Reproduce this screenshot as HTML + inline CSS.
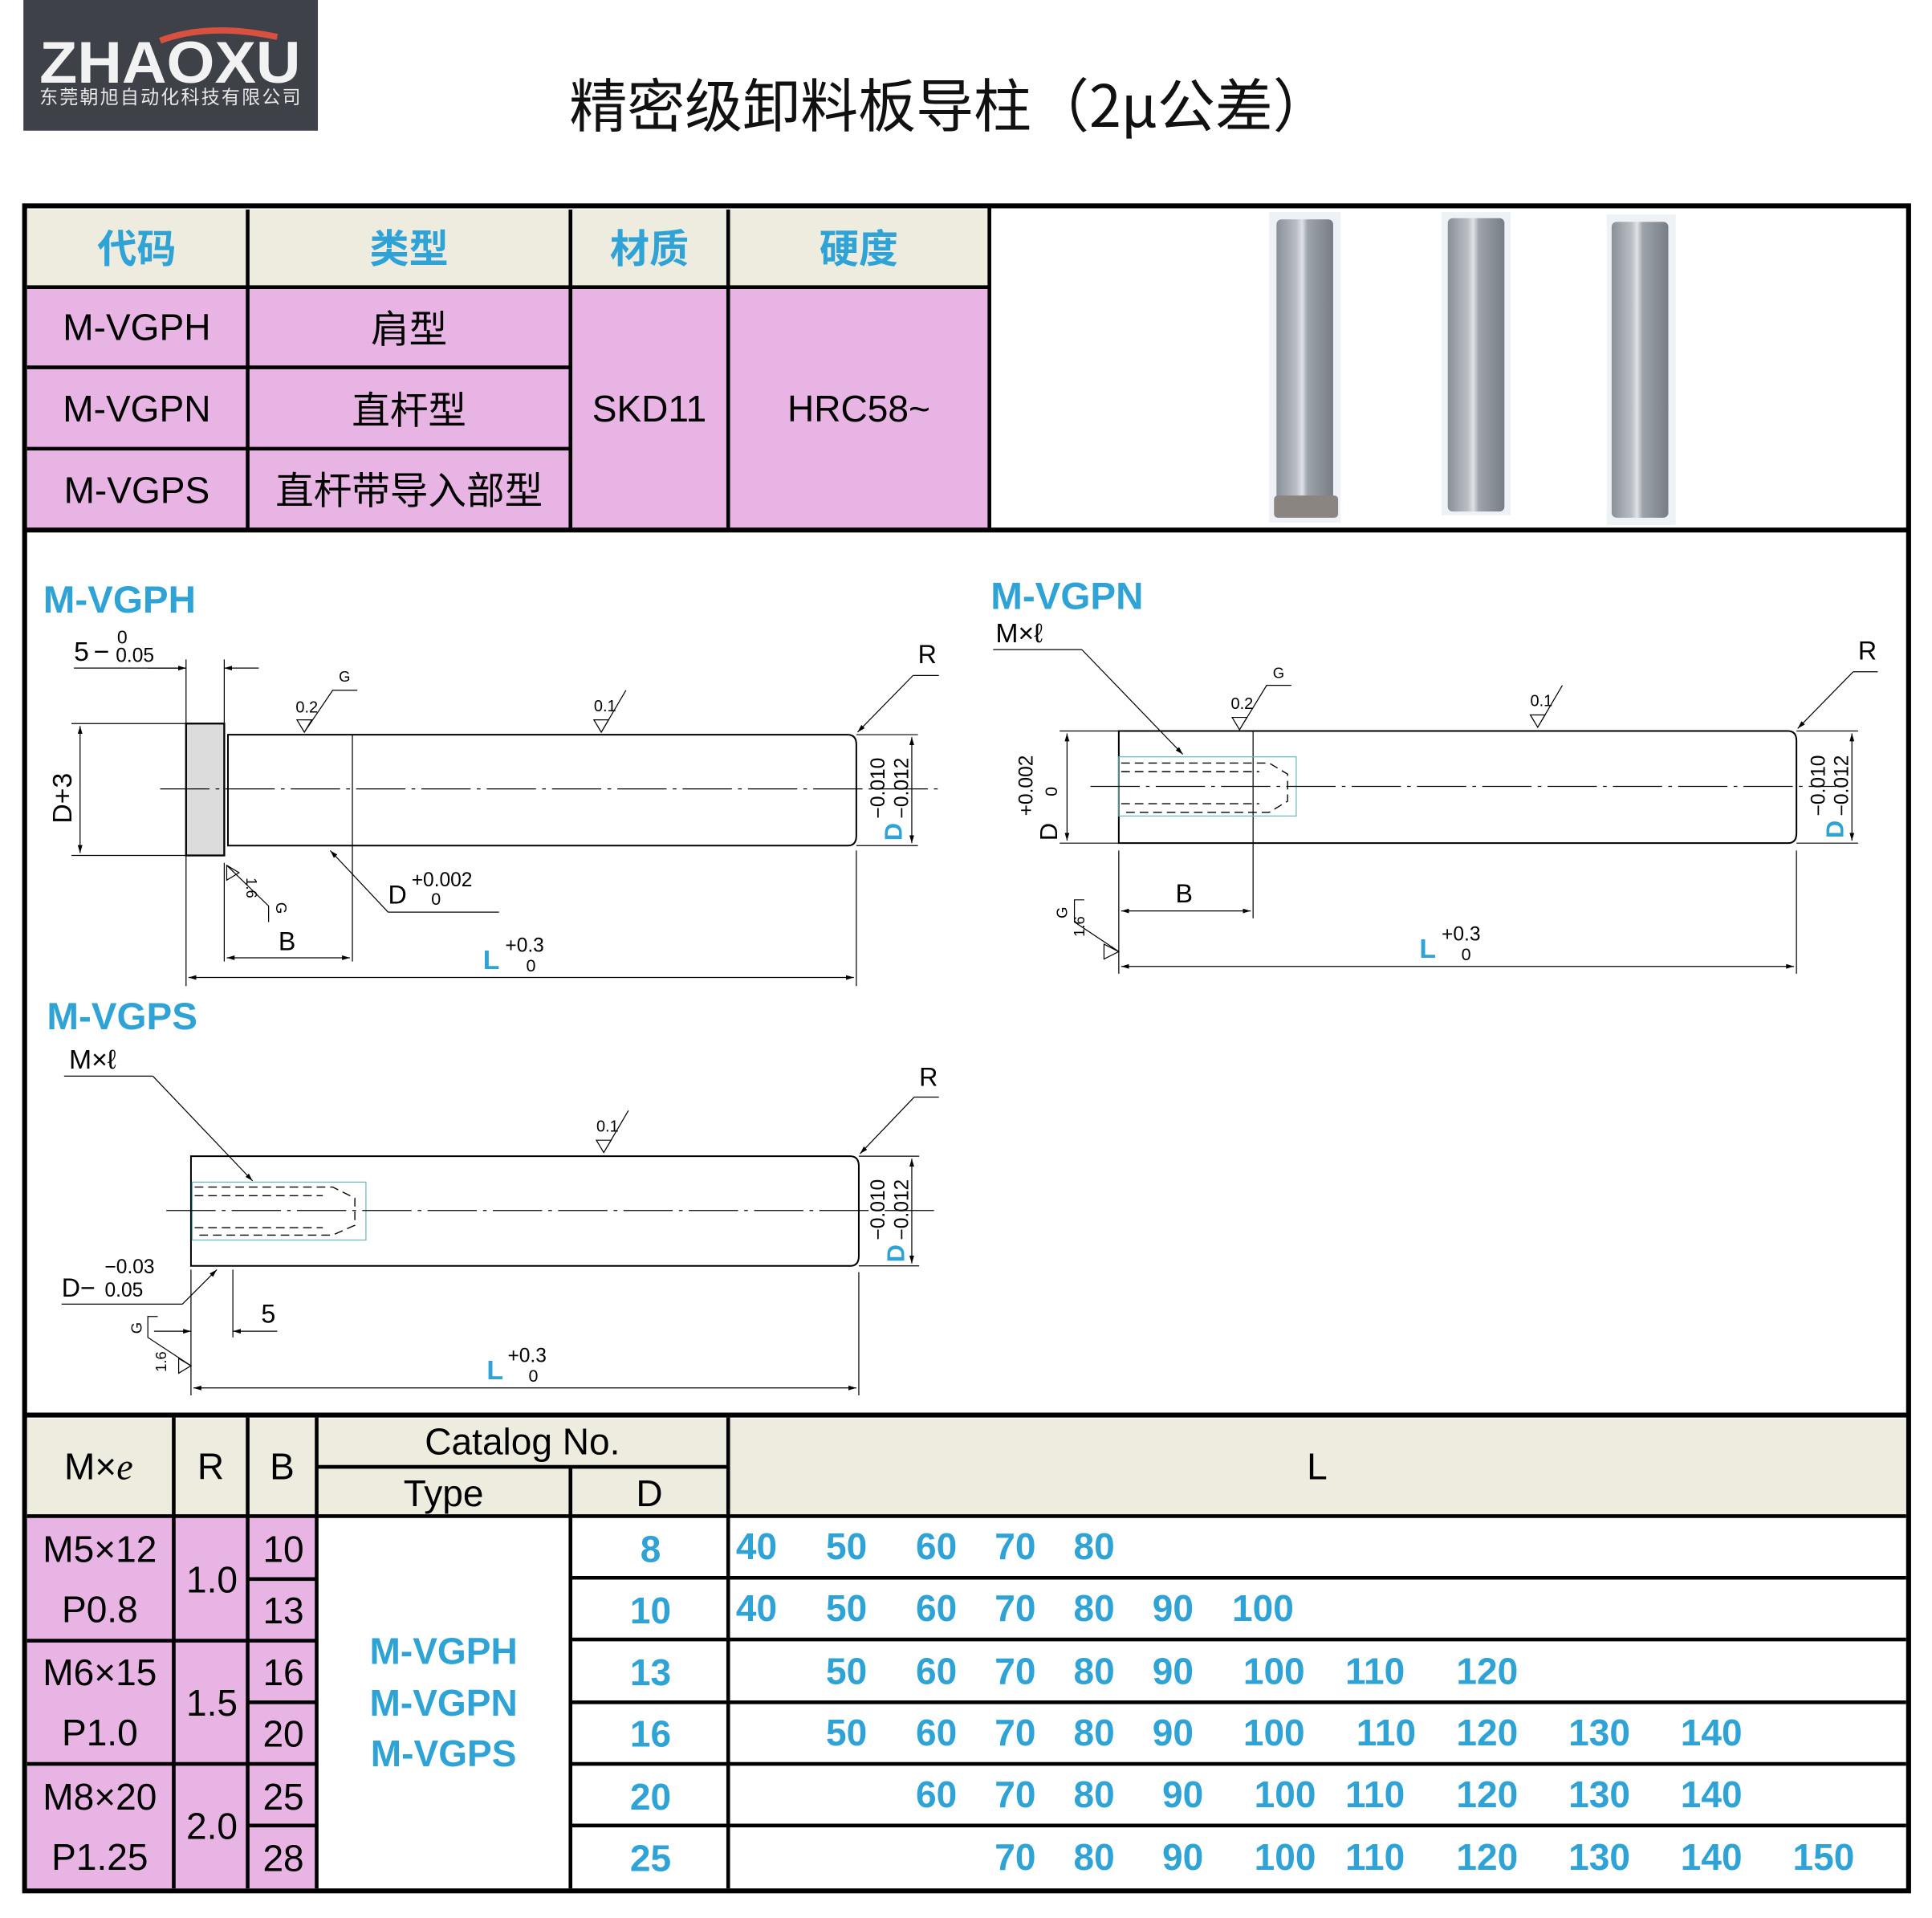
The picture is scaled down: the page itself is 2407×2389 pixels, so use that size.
<!DOCTYPE html>
<html><head><meta charset="utf-8">
<style>
html,body{margin:0;padding:0;background:#fff;}
svg{display:block;}
text{font-family:"Liberation Sans","Noto Sans CJK SC",sans-serif;}
.cj{font-family:"Noto Sans CJK SC","Liberation Sans",sans-serif;}
.bl{fill:#2fa3d6;font-weight:bold;}
.ln{stroke:#000;stroke-width:1.3;fill:none;}
.th{stroke:#000;stroke-width:0.8;fill:none;}
.cl{stroke:#000;stroke-width:0.8;stroke-dasharray:40 5 3 5;fill:none;}
.dh{stroke:#000;stroke-width:0.9;stroke-dasharray:7 4;fill:none;}
</style></head>
<body>
<svg width="2407" height="2389" viewBox="0 0 1568 1556" preserveAspectRatio="none" xmlns="http://www.w3.org/2000/svg">
<defs>
<linearGradient id="pg" x1="0" x2="1">
<stop offset="0" stop-color="#8a9098"/><stop offset="0.35" stop-color="#b9bec4"/><stop offset="0.45" stop-color="#dfe3e8"/><stop offset="0.55" stop-color="#9da3aa"/><stop offset="1" stop-color="#777d85"/>
</linearGradient>
<marker id="a" viewBox="0 0 10 10" refX="10" refY="5" markerWidth="8" markerHeight="8" orient="auto-start-reverse"><path d="M0,2 L10,5 L0,8 z" fill="#000"/></marker>
</defs>
<!-- logo -->
<rect x="19" y="0" width="239" height="106" fill="#3e4147"/>
<path d="M130,33 Q170,18 225,30" stroke="#d85040" stroke-width="5" fill="none"/>
<text x="32" y="67" font-size="48" font-weight="bold" fill="#f2f2f2" textLength="212" lengthAdjust="spacingAndGlyphs">ZHAOXU</text>
<text x="32" y="84" font-size="15" fill="#e8e8e8" class="cj" textLength="212">东莞朝旭自动化科技有限公司</text>
<!-- title -->
<text x="462" y="103" font-size="47" class="cj" fill="#111" textLength="618">精密级卸料板导柱（2μ公差）</text>
<!-- outer border -->
<rect x="20" y="167" width="1529" height="1367" fill="none" stroke="#000" stroke-width="4"/>
<!-- top table -->
<rect x="22" y="170" width="780" height="63" fill="#eeebdf"/>
<rect x="22" y="233" width="780" height="196" fill="#e8b4e4"/>
<g stroke="#000" stroke-width="3">
<line x1="22" y1="233" x2="802" y2="233"/>
<line x1="22" y1="298" x2="463" y2="298"/>
<line x1="22" y1="364" x2="463" y2="364"/>
<line x1="201" y1="170" x2="201" y2="430"/>
<line x1="463" y1="170" x2="463" y2="430"/>
<line x1="591" y1="170" x2="591" y2="430"/>
<line x1="803" y1="168" x2="803" y2="430"/>
<line x1="20" y1="430" x2="1549" y2="430" stroke-width="4"/>
</g>
<g font-size="32" text-anchor="middle">
<text x="111" y="213" class="cj bl">代码</text>
<text x="332" y="213" class="cj bl">类型</text>
<text x="527" y="213" class="cj bl">材质</text>
<text x="697" y="213" class="cj bl">硬度</text>
<text x="111" y="276" font-size="30">M-VGPH</text>
<text x="111" y="342" font-size="30">M-VGPN</text>
<text x="111" y="408" font-size="30">M-VGPS</text>
<text x="332" y="278" class="cj" font-size="31">肩型</text>
<text x="332" y="344" class="cj" font-size="31">直杆型</text>
<text x="332" y="409" class="cj" font-size="31">直杆带导入部型</text>
<text x="527" y="342" font-size="30">SKD11</text>
<text x="697" y="342" font-size="30">HRC58~</text>
</g>
<!-- pin photos -->
<rect x="1030" y="172" width="58" height="252" fill="#eef2f6"/>
<rect x="1036" y="178" width="46" height="228" rx="4" fill="url(#pg)"/>
<rect x="1034" y="402" width="52" height="18" rx="3" fill="#8a8580"/>
<rect x="1170" y="172" width="56" height="246" fill="#eef2f6"/>
<rect x="1175" y="177" width="46" height="238" rx="4" fill="url(#pg)"/>
<rect x="1304" y="174" width="56" height="252" fill="#eef2f6"/>
<rect x="1308" y="180" width="46" height="240" rx="4" fill="url(#pg)"/>

<!-- M-VGPH -->
<text x="35" y="497" font-size="31" class="bl">M-VGPH</text>
<text x="60" y="536" font-size="22">5</text><text x="76" y="536" font-size="22">−</text>
<text x="95" y="522" font-size="15">0</text><text x="94" y="537" font-size="16">0.05</text>
<line class="th" x1="60" y1="542" x2="151" y2="542"/>
<line class="th" x1="151" y1="535" x2="151" y2="800"/><line class="th" x1="182" y1="535" x2="182" y2="590"/>
<line class="th" x1="120" y1="542" x2="151" y2="542" marker-end="url(#a)"/><line class="th" x1="210" y1="542" x2="182" y2="542" marker-end="url(#a)"/>
<rect x="151" y="587" width="31" height="107" fill="#dcdcdc" stroke="#000" stroke-width="1.5"/>
<path class="ln" d="M185,596 H688 Q695,596 695,604 V678 Q695,686 688,686 H185 Z"/>
<line class="th" x1="286" y1="596" x2="286" y2="780"/>
<line class="cl" x1="130" y1="640" x2="762" y2="640"/>
<line class="th" x1="58" y1="587" x2="151" y2="587"/><line class="th" x1="58" y1="694" x2="151" y2="694"/>
<line class="th" x1="65" y1="640" x2="65" y2="589" marker-end="url(#a)"/><line class="th" x1="65" y1="640" x2="65" y2="692" marker-end="url(#a)"/>
<text transform="translate(58,668) rotate(-90)" font-size="22">D+3</text>
<line class="th" x1="695" y1="596" x2="745" y2="596"/><line class="th" x1="695" y1="686" x2="745" y2="686"/>
<line class="th" x1="740" y1="640" x2="740" y2="598" marker-end="url(#a)"/><line class="th" x1="740" y1="640" x2="740" y2="684" marker-end="url(#a)"/>
<text transform="translate(732,682) rotate(-90)" font-size="20" class="bl">D</text>
<text transform="translate(718,664) rotate(-90)" font-size="16">−0.010</text>
<text transform="translate(737,664) rotate(-90)" font-size="16">−0.012</text>
<text x="745" y="538" font-size="21">R</text>
<line class="th" x1="741" y1="548" x2="762" y2="548"/><line class="th" x1="741" y1="548" x2="696" y2="594" marker-end="url(#a)"/>
<path class="th" d="M241,584 L247,594 L253,584 Z M247,594 L270,560 H290"/><text x="240" y="578" font-size="13">0.2</text><text x="275" y="553" font-size="12">G</text>
<path class="th" d="M482,584 L488,594 L494,584 Z M488,594 L508,560"/><text x="482" y="577" font-size="13">0.1</text>
<path class="th" d="M184,702 L194,708 L184,714 Z M184,702 L218,735 V748"/><text transform="translate(200,712) rotate(90)" font-size="12">1.6</text><text transform="translate(224,732) rotate(90)" font-size="12">G</text>
<line class="th" x1="315" y1="740" x2="268" y2="690" marker-end="url(#a)"/><line class="th" x1="315" y1="740" x2="405" y2="740"/>
<text x="315" y="733" font-size="21">D</text><text x="334" y="719" font-size="16">+0.002</text><text x="350" y="734" font-size="14">0</text>
<line class="th" x1="182" y1="700" x2="182" y2="780"/>
<line class="th" x1="184" y1="777" x2="284" y2="777" marker-start="url(#a)" marker-end="url(#a)"/>
<text x="226" y="771" font-size="21">B</text>
<line class="th" x1="695" y1="690" x2="695" y2="800"/>
<line class="th" x1="153" y1="793" x2="693" y2="793" marker-start="url(#a)" marker-end="url(#a)"/>
<text x="392" y="786" font-size="22" class="bl">L</text><text x="410" y="772" font-size="16">+0.3</text><text x="427" y="788" font-size="14">0</text>

<!-- M-VGPN -->
<text x="804" y="494" font-size="31" class="bl">M-VGPN</text>
<text x="808" y="521" font-size="22">M×ℓ</text>
<line class="th" x1="806" y1="527" x2="878" y2="527"/><line class="th" x1="878" y1="527" x2="960" y2="612" marker-end="url(#a)"/>
<path class="ln" d="M908,593 H1451 Q1458,593 1458,601 V676 Q1458,684 1451,684 H908 Z"/>
<line class="th" x1="1017" y1="593" x2="1017" y2="745"/>
<rect x="908" y="614" width="144" height="48" fill="none" stroke="#6bb8b0" stroke-width="0.8"/>
<path class="dh" d="M910,619 H1030 L1045,628 V650 L1030,659 H910 M910,626 H1022 M910,652 H1022"/>
<line class="cl" x1="885" y1="638" x2="1490" y2="638"/>
<line class="th" x1="860" y1="593" x2="908" y2="593"/><line class="th" x1="860" y1="684" x2="908" y2="684"/>
<line class="th" x1="866" y1="638" x2="866" y2="595" marker-end="url(#a)"/><line class="th" x1="866" y1="638" x2="866" y2="682" marker-end="url(#a)"/>
<text transform="translate(858,682) rotate(-90)" font-size="20">D</text>
<text transform="translate(838,662) rotate(-90)" font-size="16">+0.002</text>
<text transform="translate(858,646) rotate(-90)" font-size="14">0</text>
<line class="th" x1="1458" y1="593" x2="1508" y2="593"/><line class="th" x1="1458" y1="684" x2="1508" y2="684"/>
<line class="th" x1="1503" y1="638" x2="1503" y2="595" marker-end="url(#a)"/><line class="th" x1="1503" y1="638" x2="1503" y2="682" marker-end="url(#a)"/>
<text transform="translate(1496,680) rotate(-90)" font-size="20" class="bl">D</text>
<text transform="translate(1481,662) rotate(-90)" font-size="16">−0.010</text>
<text transform="translate(1500,662) rotate(-90)" font-size="16">−0.012</text>
<text x="1508" y="535" font-size="21">R</text>
<line class="th" x1="1504" y1="545" x2="1524" y2="545"/><line class="th" x1="1504" y1="545" x2="1459" y2="591" marker-end="url(#a)"/>
<path class="th" d="M1000,582 L1006,592 L1012,582 Z M1006,592 L1028,556 H1048"/><text x="999" y="575" font-size="13">0.2</text><text x="1033" y="550" font-size="12">G</text>
<path class="th" d="M1242,580 L1248,590 L1254,580 Z M1248,590 L1268,556"/><text x="1242" y="573" font-size="13">0.1</text>
<path class="th" d="M896,766 L908,772 L896,778 Z M908,772 L872,748 V730 L880,730"/><text transform="translate(880,760) rotate(-90)" font-size="12">1.6</text><text transform="translate(866,745) rotate(-90)" font-size="12">G</text>
<line class="th" x1="908" y1="690" x2="908" y2="790"/>
<line class="th" x1="910" y1="739" x2="1015" y2="739" marker-start="url(#a)" marker-end="url(#a)"/>
<text x="954" y="732" font-size="21">B</text>
<line class="th" x1="1458" y1="690" x2="1458" y2="790"/>
<line class="th" x1="910" y1="784" x2="1456" y2="784" marker-start="url(#a)" marker-end="url(#a)"/>
<text x="1152" y="777" font-size="22" class="bl">L</text><text x="1170" y="763" font-size="16">+0.3</text><text x="1186" y="779" font-size="14">0</text>

<!-- M-VGPS -->
<text x="38" y="835" font-size="31" class="bl">M-VGPS</text>
<text x="56" y="867" font-size="22">M×ℓ</text>
<line class="th" x1="52" y1="873" x2="124" y2="873"/><line class="th" x1="124" y1="873" x2="205" y2="958" marker-end="url(#a)"/>
<path class="ln" d="M155,938 H690 Q697,938 697,946 V1019 Q697,1027 690,1027 H155 Z"/>
<rect x="156" y="959" width="141" height="47" fill="none" stroke="#6bb8b0" stroke-width="0.8"/>
<path class="dh" d="M158,963 H270 L288,972 V994 L270,1002 H158 M158,970 H262 M158,996 H262"/>
<line class="cl" x1="135" y1="982" x2="760" y2="982"/>
<line class="th" x1="697" y1="938" x2="746" y2="938"/><line class="th" x1="697" y1="1027" x2="746" y2="1027"/>
<line class="th" x1="740" y1="982" x2="740" y2="940" marker-end="url(#a)"/><line class="th" x1="740" y1="982" x2="740" y2="1025" marker-end="url(#a)"/>
<text transform="translate(734,1024) rotate(-90)" font-size="20" class="bl">D</text>
<text transform="translate(718,1006) rotate(-90)" font-size="16">−0.010</text>
<text transform="translate(737,1006) rotate(-90)" font-size="16">−0.012</text>
<text x="746" y="881" font-size="21">R</text>
<line class="th" x1="742" y1="890" x2="762" y2="890"/><line class="th" x1="742" y1="890" x2="698" y2="936" marker-end="url(#a)"/>
<path class="th" d="M484,925 L490,935 L496,925 Z M490,935 L510,901"/><text x="484" y="918" font-size="13">0.1</text>
<text x="50" y="1052" font-size="21">D−</text><text x="85" y="1033" font-size="16">−0.03</text><text x="85" y="1052" font-size="16">0.05</text>
<line class="th" x1="50" y1="1058" x2="148" y2="1058"/><line class="th" x1="148" y1="1058" x2="176" y2="1030" marker-end="url(#a)"/>
<line class="th" x1="189" y1="1030" x2="189" y2="1085"/>
<line class="th" x1="125" y1="1080" x2="155" y2="1080" marker-end="url(#a)"/><line class="th" x1="225" y1="1080" x2="189" y2="1080" marker-end="url(#a)"/>
<text x="212" y="1073" font-size="21">5</text>
<path class="th" d="M145,1102 L155,1108 L145,1114 Z M155,1108 L120,1085 V1068 L128,1068"/><text transform="translate(135,1113) rotate(-90)" font-size="12">1.6</text><text transform="translate(115,1082) rotate(-90)" font-size="12">G</text>
<line class="th" x1="155" y1="1030" x2="155" y2="1132"/><line class="th" x1="697" y1="1032" x2="697" y2="1132"/>
<line class="th" x1="157" y1="1126" x2="695" y2="1126" marker-start="url(#a)" marker-end="url(#a)"/>
<text x="395" y="1119" font-size="22" class="bl">L</text><text x="412" y="1105" font-size="16">+0.3</text><text x="429" y="1121" font-size="14">0</text>

<!-- bottom table -->
<line x1="20" y1="1148" x2="1549" y2="1148" stroke="#000" stroke-width="4"/>
<rect x="22" y="1151" width="1525" height="79" fill="#eeebdf"/>
<rect x="22" y="1230" width="235" height="302" fill="#e8b4e4"/>
<g stroke="#000" stroke-width="3">
<line x1="22" y1="1230" x2="1547" y2="1230"/>
<line x1="257" y1="1190" x2="591" y2="1190"/>
<line x1="141" y1="1150" x2="141" y2="1532"/>
<line x1="201" y1="1150" x2="201" y2="1532"/>
<line x1="257" y1="1150" x2="257" y2="1532"/>
<line x1="463" y1="1190" x2="463" y2="1532"/>
<line x1="591" y1="1150" x2="591" y2="1532"/>
<line x1="22" y1="1331" x2="257" y2="1331"/>
<line x1="22" y1="1431" x2="257" y2="1431"/>
<line x1="201" y1="1281" x2="257" y2="1281"/>
<line x1="201" y1="1381" x2="257" y2="1381"/>
<line x1="201" y1="1481" x2="257" y2="1481"/>
<line x1="463" y1="1280" x2="1547" y2="1280"/>
<line x1="463" y1="1330" x2="1547" y2="1330"/>
<line x1="463" y1="1381" x2="1547" y2="1381"/>
<line x1="463" y1="1431" x2="1547" y2="1431"/>
<line x1="463" y1="1481" x2="1547" y2="1481"/>
</g>
<g font-size="30" text-anchor="middle">
<text x="80" y="1200">M×<tspan font-style="italic" font-family="Liberation Serif">e</tspan></text>
<text x="171" y="1200">R</text><text x="229" y="1200">B</text>
<text x="424" y="1180">Catalog  No.</text>
<text x="360" y="1222">Type</text><text x="527" y="1222">D</text>
<text x="1069" y="1200">L</text>
<text x="81" y="1267">M5×12</text><text x="81" y="1316">P0.8</text>
<text x="81" y="1367">M6×15</text><text x="81" y="1416">P1.0</text>
<text x="81" y="1468">M8×20</text><text x="81" y="1517">P1.25</text>
<text x="172" y="1292">1.0</text><text x="172" y="1392">1.5</text><text x="172" y="1492">2.0</text>
<text x="230" y="1267">10</text><text x="230" y="1317">13</text><text x="230" y="1367">16</text><text x="230" y="1417">20</text><text x="230" y="1468">25</text><text x="230" y="1518">28</text>
</g>
<g font-size="30" text-anchor="middle" class="bl">
<text x="360" y="1350">M-VGPH</text><text x="360" y="1392">M-VGPN</text><text x="360" y="1433">M-VGPS</text>
<text x="528" y="1267">8</text><text x="528" y="1317">10</text><text x="528" y="1367">13</text><text x="528" y="1417">16</text><text x="528" y="1468">20</text><text x="528" y="1518">25</text>
<g>
<text x="614" y="1265">40</text><text x="687" y="1265">50</text><text x="760" y="1265">60</text><text x="824" y="1265">70</text><text x="888" y="1265">80</text>
<text x="614" y="1315">40</text><text x="687" y="1315">50</text><text x="760" y="1315">60</text><text x="824" y="1315">70</text><text x="888" y="1315">80</text><text x="952" y="1315">90</text><text x="1025" y="1315">100</text>
<text x="687" y="1366">50</text><text x="760" y="1366">60</text><text x="824" y="1366">70</text><text x="888" y="1366">80</text><text x="952" y="1366">90</text><text x="1034" y="1366">100</text><text x="1116" y="1366">110</text><text x="1207" y="1366">120</text>
<text x="687" y="1416">50</text><text x="760" y="1416">60</text><text x="824" y="1416">70</text><text x="888" y="1416">80</text><text x="952" y="1416">90</text><text x="1034" y="1416">100</text><text x="1125" y="1416">110</text><text x="1207" y="1416">120</text><text x="1298" y="1416">130</text><text x="1389" y="1416">140</text>
<text x="760" y="1466">60</text><text x="824" y="1466">70</text><text x="888" y="1466">80</text><text x="960" y="1466">90</text><text x="1043" y="1466">100</text><text x="1116" y="1466">110</text><text x="1207" y="1466">120</text><text x="1298" y="1466">130</text><text x="1389" y="1466">140</text>
<text x="824" y="1517">70</text><text x="888" y="1517">80</text><text x="960" y="1517">90</text><text x="1043" y="1517">100</text><text x="1116" y="1517">110</text><text x="1207" y="1517">120</text><text x="1298" y="1517">130</text><text x="1389" y="1517">140</text><text x="1480" y="1517">150</text>
</g>
</g>
</svg>
</body></html>
